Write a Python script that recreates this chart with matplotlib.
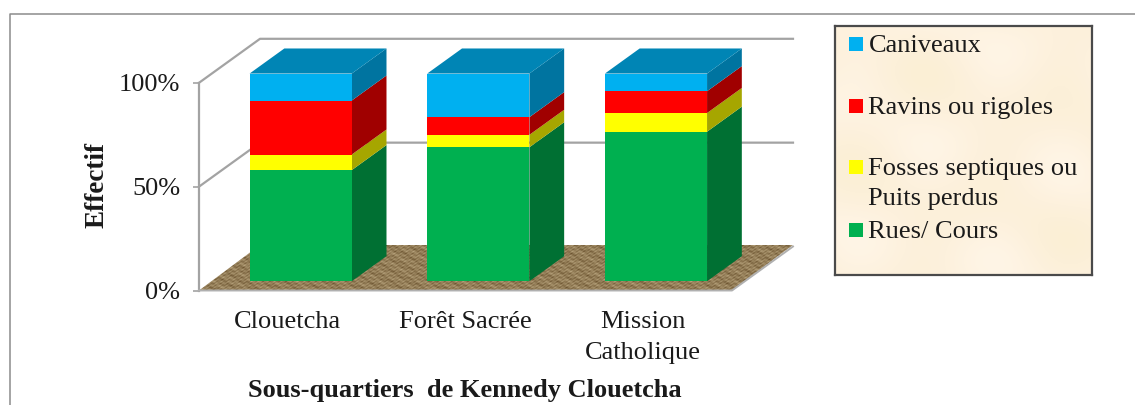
import numpy as np
import matplotlib
matplotlib.use('Agg')
import matplotlib.pyplot as plt
from matplotlib.colors import LinearSegmentedColormap
from matplotlib.lines import Line2D
from matplotlib.patches import Polygon, Rectangle

plt.rcParams['font.family'] = ['Liberation Serif', 'DejaVu Serif']

# data
quartiers = ['Clouetcha', 'Forêt Sacrée', 'Mission\nCatholique']
rues = [53.5, 64.5, 72.0]
fosses = [7.5, 6.0, 9.0]
ravins = [26.0, 8.5, 10.5]
caniveaux = [13.0, 21.0, 8.5]

series = [rues, fosses, ravins, caniveaux]
front_colors = ['#00B050', '#FFFF00', '#FF0000', '#00B0F0']
side_colors = ['#007033', '#A6A600', '#A00000', '#0074A0']
top_color = '#0085B5'

legend_labels = ['Caniveaux', 'Ravins ou rigoles', 'Fosses septiques ou\nPuits perdus', 'Rues/ Cours']
legend_colors = ['#00B0F0', '#FF0000', '#FFFF00', '#00B050']

W, H = 1135, 405
GRID = '#A3A3A3'
TEXT = '#1A1A1A'
FONT = 19

# oblique depth: one unit of depth moves right and up in data coordinates
DEPTH_X = 61 / (533 / 3)
DEPTH_Y = 44 / 2.077
BAR_WIDTH = 0.575
BAR_D0, BAR_D1 = 0.21, 0.78


def project(x, y, d):
    return x + d * DEPTH_X, y + d * DEPTH_Y


def box_face(ax, corners, color, z):
    pts = [project(*c) for c in corners]
    ax.add_patch(Polygon(pts, closed=True, fc=color, ec='none', zorder=z, clip_on=False))


def draw_bar(ax, x, y0, y1, front, side, z):
    l, r = x - BAR_WIDTH / 2, x + BAR_WIDTH / 2
    box_face(ax, [(r, y0, BAR_D0), (r, y1, BAR_D0), (r, y1, BAR_D1), (r, y0, BAR_D1)], side, z)
    box_face(ax, [(l, y0, BAR_D0), (r, y0, BAR_D0), (r, y1, BAR_D0), (l, y1, BAR_D0)], front, z)


def floor_texture(nx, ny):
    # burlap-like weave, broken up so it does not read as stripes
    yy, xx = np.mgrid[0:ny, 0:nx]
    weave = np.sin(xx * 0.83 + yy * 0.4) * np.sin(yy * 1.57)
    weave += 0.7 * np.sin(xx * 0.23 - yy * 0.9) * np.sin(xx * 0.071 + yy * 0.37)
    weave += 0.4 * np.sin(xx * 1.9 + yy * 2.3)
    return weave


fig = plt.figure(figsize=(W / 100, H / 100), dpi=100, facecolor='white')

# outer chart border
fig.add_artist(Line2D([10 / W, 10 / W, 1], [0, 1 - 14 / H, 1 - 14 / H], color='#8C8C8C', lw=1.1))

# floor sits in its own axes underneath, in pixel coordinates
floor_ax = fig.add_axes([199 / W, 1 - 290.5 / H, 594 / W, 45.5 / H], zorder=0)
floor_ax.set_axis_off()
floor_ax.set_xlim(199, 793)
floor_ax.set_ylim(290.5, 245)
floor_cmap = LinearSegmentedColormap.from_list('burlap', ['#6B5330', '#947E58', '#B8A47E'])
im = floor_ax.imshow(floor_texture(594, 46), cmap=floor_cmap, aspect='auto',
                     extent=(199, 793, 290.5, 245), interpolation='bilinear')
floor_patch = Polygon([(199, 290.5), (732, 290.5), (793, 245), (260, 245)], closed=True,
                      transform=floor_ax.transData, fc='none', ec='none')
floor_ax.add_patch(floor_patch)
im.set_clip_path(floor_patch)

ax = fig.add_axes([199 / W, 1 - 290.5 / H, 533 / W, 207.7 / H], zorder=1)
ax.set_facecolor('none')
ax.set_xlim(-0.5, 2.5)
ax.set_ylim(0, 100)
for s in ax.spines.values():
    s.set_visible(False)

# back wall gridlines and their return to the front axis
for v in [50, 100]:
    ax.plot(*zip(project(-0.5, v, 0), project(-0.5, v, 1), project(2.5, v, 1)),
            color=GRID, lw=1.6, clip_on=False, zorder=1)
ax.plot([-0.5, -0.5], [0, 100], color=GRID, lw=1.6, clip_on=False, zorder=1)

# floor outline along the front and right edges
ax.plot(*zip(project(-0.5, 0, 0), project(2.5, 0, 0), project(2.5, 0, 1)), color='#B0B0B0', lw=1.4,
        clip_on=False, zorder=2.5)

# stacked bars
for i in range(len(quartiers)):
    z = 3 + i
    base = 0
    for values, front, side in zip(series, front_colors, side_colors):
        draw_bar(ax, i, base, base + values[i], front, side, z)
        base += values[i]
    l, r = i - BAR_WIDTH / 2, i + BAR_WIDTH / 2
    box_face(ax, [(l, base, BAR_D0), (r, base, BAR_D0), (r, base, BAR_D1), (l, base, BAR_D1)], top_color, z)

ax.set_yticks([0, 50, 100])
ax.set_yticklabels(['0%', '50%', '100%'], fontsize=FONT, color=TEXT)
ax.set_xticks(range(len(quartiers)))
ax.set_xticklabels(quartiers, fontsize=FONT, color=TEXT, linespacing=1.5)
ax.tick_params(axis='y', length=4.5, width=1.2, color=GRID, pad=9)
ax.tick_params(axis='x', length=0, pad=15)
ax.set_ylim(0, 100)

fig.text(97 / W, 1 - 185 / H, 'Effectif', rotation=90, ha='center', va='center',
         fontsize=19.5, fontweight='bold', color=TEXT)
fig.text(465 / W, 1 - 390 / H, 'Sous-quartiers  de Kennedy Clouetcha', ha='center', va='center',
         fontsize=19, fontweight='bold', color=TEXT)

# legend panel, coordinates in pixels of the panel
leg = fig.add_axes([834.5 / W, 1 - 274.5 / H, 257 / W, 248.5 / H], zorder=2)
leg.set_xlim(834.5, 1091.5)
leg.set_ylim(274.5, 26)
leg.set_xticks([])
leg.set_yticks([])
for s in leg.spines.values():
    s.set_color('#4A4A4A')
    s.set_linewidth(1.6)

yy, xx = np.mgrid[0:124, 0:128]
mottle = np.sin(xx * 0.09 + 0.7) * np.sin(yy * 0.07) + 0.6 * np.sin(xx * 0.03 - yy * 0.11)
parchment = LinearSegmentedColormap.from_list('parchment', ['#FBEFD5', '#FDF1DD', '#FFF5E6'])
leg.imshow(mottle, cmap=parchment, aspect='auto', extent=(834.5, 1091.5, 274.5, 26), interpolation='bicubic')

legend_y = [44, 106, 167, 230]
for label, color, y in zip(legend_labels, legend_colors, legend_y):
    leg.add_patch(Rectangle((849, y - 7), 14, 14, fc=color, ec='none'))
    leg.text(868.5, y - 9, label, fontsize=FONT, va='top', ha='left', color=TEXT, linespacing=1.5)

fig.savefig('out.png', dpi=100, facecolor='white')
